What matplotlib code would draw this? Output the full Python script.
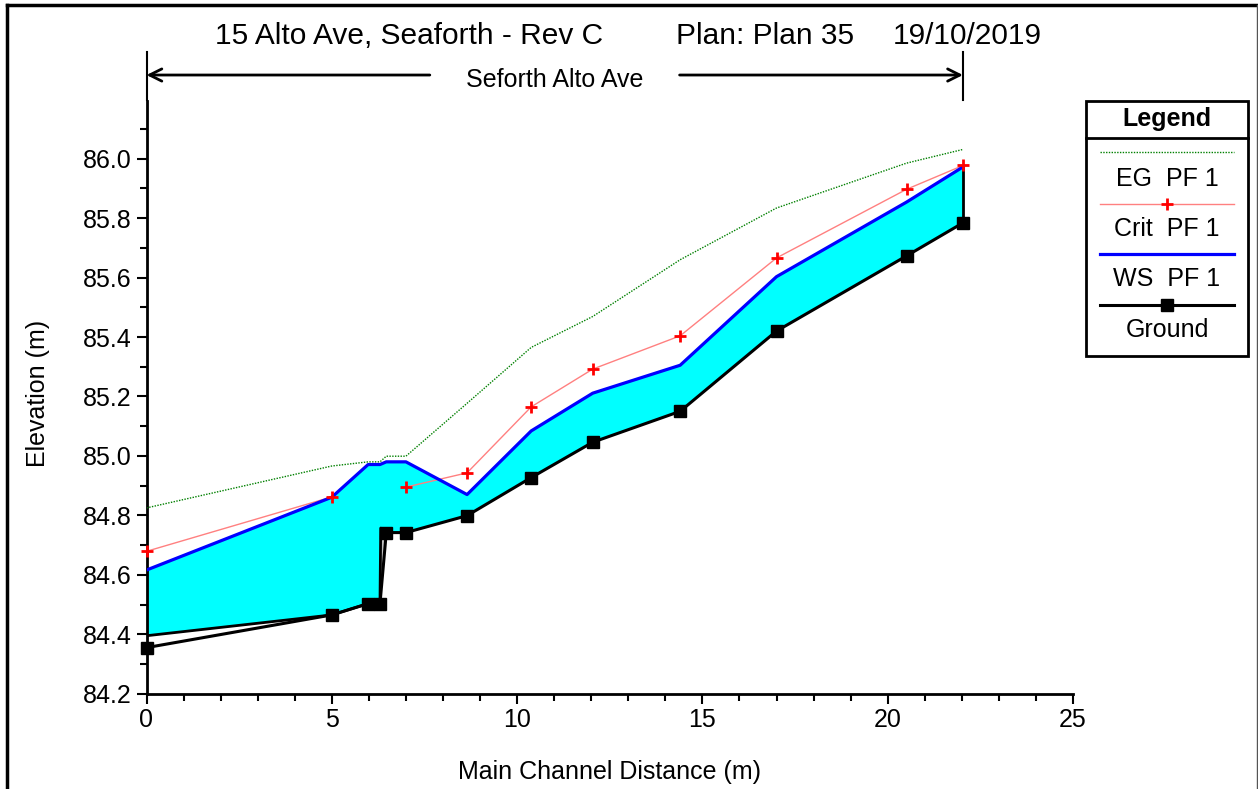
import numpy as np
import matplotlib
matplotlib.use("Agg")
import matplotlib.pyplot as plt
from matplotlib.lines import Line2D
from matplotlib.patches import Rectangle
from matplotlib.ticker import MultipleLocator

plt.rcParams["font.family"] = ["Liberation Sans", "DejaVu Sans"]

# profile data
stations = [0.0, 5.0, 5.98, 6.30, 6.47, 7.0, 8.65, 10.38, 12.04, 14.40, 17.00, 20.51, 22.03]
ground = [84.355, 84.465, 84.503, 84.503, 84.742, 84.742, 84.799, 84.927, 85.046, 85.150, 85.420, 85.673, 85.784]
ws_pf1 = [84.616, 84.861, 84.971, 84.971, 84.980, 84.980, 84.870, 85.084, 85.211, 85.305, 85.603, 85.854, 85.972]
crit_pf1 = [84.679, 84.862, np.nan, np.nan, np.nan, 84.895, 84.943, 85.165, 85.292, 85.404, 85.666, 85.897, 85.977]
eg_pf1 = [84.825, 84.966, 84.980, 84.980, 84.999, 84.999, 85.177, 85.365, 85.469, 85.660, 85.834, 85.985, 86.031]

# channel bed used as the lower edge of the water fill
bed_x = [0.0, 5.0, 5.98, 6.30, 6.32, 6.47, 7.0, 8.65, 10.38, 12.04, 14.40, 17.00, 20.51, 22.03]
bed_y = [84.395, 84.465, 84.503, 84.503, 84.757, 84.742, 84.742, 84.799, 84.927, 85.046, 85.150, 85.420, 85.673, 85.784]

reach_name = "Seforth Alto Ave"
title_parts = ["15 Alto Ave, Seaforth - Rev C", "Plan: Plan 35", "19/10/2019"]
legend_labels = ["EG  PF 1", "Crit  PF 1", "WS  PF 1", "Ground"]

W, H = 1258, 789
fig = plt.figure(figsize=(W / 100, H / 100), dpi=100)
fig.patch.set_facecolor("white")


def fx(px):
    return px / W


def fy(py):
    return 1 - py / H


ax = fig.add_axes([fx(146.5), fy(693.7), (1073 - 146.5) / W, (693.7 - 100.7) / H])

sta = np.array(stations)
# water fill
ax.fill(np.r_[sta, bed_x[::-1]], np.r_[ws_pf1, bed_y[::-1]], color="#00ffff", lw=0, zorder=1)
# small wedge at the step in the bed
ax.fill(np.r_[bed_x[3:5], sta[4]], np.r_[bed_y[3:5], ground[4]], color="#c0c0c0", lw=0, zorder=1)
ax.plot(bed_x[:6], bed_y[:6], color="black", lw=2, zorder=3)
ax.plot([sta[-1], sta[-1]], [ground[-1], ws_pf1[-1]], color="black", lw=2, zorder=3)

ax.plot(sta, eg_pf1, color="#008000", lw=1, ls=(0, (1, 1)), zorder=4)
ax.plot(sta, crit_pf1, color="#ff8080", lw=1, zorder=4)
ax.plot(sta, crit_pf1, ls="none", marker="+", color="red", ms=9, mew=2, zorder=6, clip_on=False)
ax.plot(sta, ws_pf1, color="#0000ff", lw=2.3, zorder=5)
ax.plot(sta, ground, color="black", lw=2.2, marker="s", ms=8, zorder=7, clip_on=False)

ax.set_xlim(0, 25)
ax.set_ylim(84.2, 86.195)
ax.xaxis.set_major_locator(MultipleLocator(5))
ax.xaxis.set_minor_locator(MultipleLocator(1))
ax.yaxis.set_major_locator(MultipleLocator(0.2))
ax.yaxis.set_minor_locator(MultipleLocator(0.1))
ax.yaxis.set_major_formatter(matplotlib.ticker.FormatStrFormatter("%.1f"))
ax.tick_params(which="major", direction="out", length=7, width=1.5, labelsize=18, pad=3.5)
ax.tick_params(which="minor", direction="out", length=5, width=1.5)
for s in ["top", "right"]:
    ax.spines[s].set_visible(False)
for s in ["left", "bottom"]:
    ax.spines[s].set_linewidth(2)

ax.set_xlabel("Main Channel Distance (m)", fontsize=18, va="top")
ax.xaxis.set_label_coords(0.5, -0.112)
ax.set_ylabel("Elevation (m)", fontsize=18)
ax.yaxis.set_label_coords(-0.104, 0.507)

# reach arrows above the plot
tr = ax.get_xaxis_transform()
x0, x1 = sta[0], sta[-1]
xm = (x0 + x1) / 2
for xe in (x0, x1):
    ax.plot([xe, xe], [1.001, 1.0826], transform=tr, color="black", lw=1.5, clip_on=False)
ax.annotate("", xy=(x0, 1.0433), xytext=(xm - 3.37, 1.0433), xycoords=tr, textcoords=tr,
            arrowprops=dict(arrowstyle="->", lw=2, color="black", mutation_scale=22,
                            shrinkA=0, shrinkB=0))
ax.annotate("", xy=(x1, 1.0433), xytext=(xm + 3.37, 1.0433), xycoords=tr, textcoords=tr,
            arrowprops=dict(arrowstyle="->", lw=2, color="black", mutation_scale=22,
                            shrinkA=0, shrinkB=0))
ax.text(xm, 1.035, reach_name, transform=tr, ha="center", va="center", fontsize=18)

# title
for txt, px in zip(title_parts, [215, 676, 893]):
    fig.text(fx(px), fy(36), txt, ha="left", va="center", fontsize=21.5)

# outer frame
fig.add_artist(Line2D([fx(7), fx(7)], [fy(5), 0], color="black", lw=2.5))
fig.add_artist(Line2D([fx(7), fx(1257)], [fy(5), fy(5)], color="black", lw=2.5))
fig.add_artist(Line2D([fx(1256.5), fx(1256.5)], [fy(5), 0], color="#555555", lw=1))

# legend box
lx0, lx1, ly0, ly1 = 1086, 1248, 101, 356
fig.add_artist(Rectangle((fx(lx0), fy(ly1)), (lx1 - lx0) / W, (ly1 - ly0) / H,
                         transform=fig.transFigure, fill=False, lw=2, color="black"))
fig.add_artist(Line2D([fx(lx0), fx(lx1)], [fy(138), fy(138)], color="black", lw=2))
fig.text(fx((lx0 + lx1) / 2), fy(119), "Legend", ha="center", va="center", fontsize=18, fontweight="bold")
lc = (lx0 + lx1) / 2
styles = [
    dict(color="#008000", lw=1, ls=(0, (1, 1))),
    dict(color="#ff8080", lw=1),
    dict(color="#0000ff", lw=2.3),
    dict(color="black", lw=2.2),
]
line_y = [151.5, 204, 254, 305]
text_y = [179.5, 229.5, 279, 330]
for st, yl, yt, lab in zip(styles, line_y, text_y, legend_labels):
    fig.add_artist(Line2D([fx(1100), fx(1234)], [fy(yl), fy(yl)], **st))
    fig.text(fx(lc), fy(yt), lab, ha="center", va="center", fontsize=18)
fig.add_artist(Line2D([fx(lc)], [fy(line_y[1])], ls="none", marker="+", color="red", ms=9, mew=2))
fig.add_artist(Line2D([fx(lc)], [fy(line_y[3])], ls="none", marker="s", color="black", ms=8))

fig.savefig("out.png", dpi=100)
